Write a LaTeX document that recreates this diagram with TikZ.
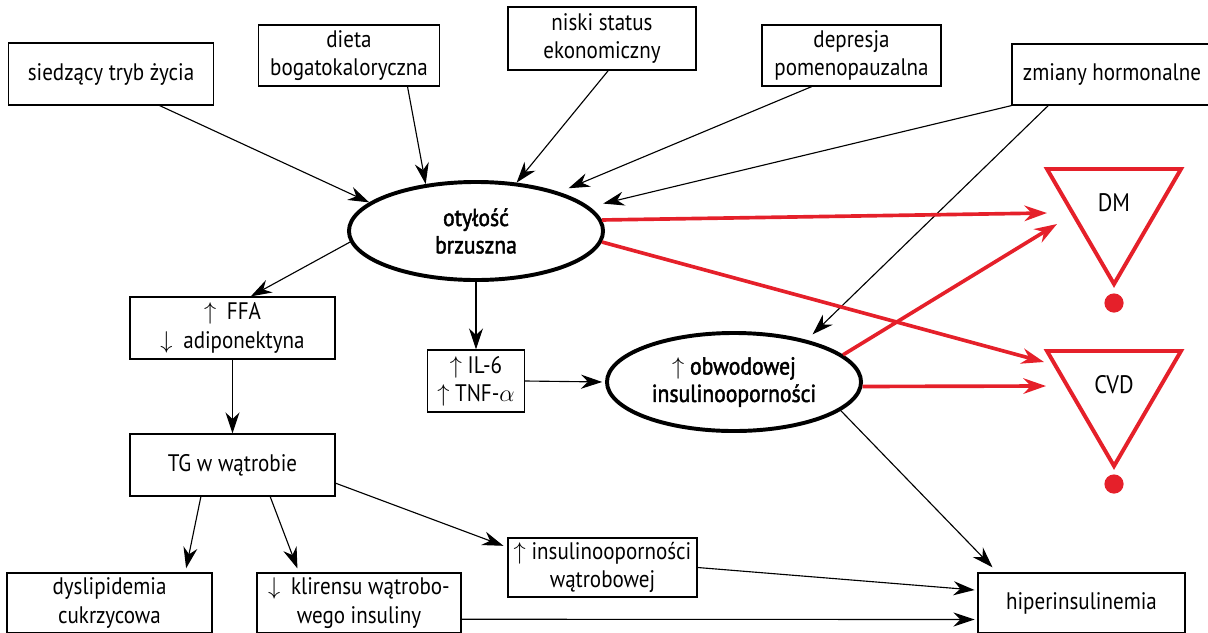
\documentclass[tikz,border=0pt]{standalone}
\usepackage{fontspec}
\setmainfont{PT Sans}[FakeStretch=0.88]
\newfontfamily\ellfont{PT Sans}[FakeStretch=0.88,FakeBold=1.8]
\usetikzlibrary{arrows.meta,shapes.geometric}
\definecolor{alarmred}{HTML}{E5202A}
\newcommand{\up}{$\uparrow$\hspace{0.45em}}
\newcommand{\down}{$\downarrow$\hspace{0.45em}}

\begin{document}
\begin{tikzpicture}[
        x=0.025cm, y=-0.025cm,
        font=\fontsize{17}{20}\selectfont,
        box/.style={draw, line width=0.85pt, align=center, inner sep=0pt, minimum height=1.55cm},
        oval/.style={ellipse, draw, line width=2.8pt, align=center, inner sep=0pt,
            minimum width=6.35cm, minimum height=2.45cm, font=\fontsize{17.5}{19.5}\selectfont\ellfont},
        arrow/.style={-{Stealth[length=15pt, width=10pt]}, line width=0.8pt},
        redarrow/.style={-{Stealth[length=16pt, width=11pt]}, line width=2.6pt, alarmred},
        warn/.style={draw=alarmred, line width=2.8pt, line join=miter}
    ]
        \useasboundingbox (0,0) rectangle (1208,632);

        % Factors
        \node[box, minimum width=5.125cm] (siedz) at (111,74) {siedzący tryb życia};
        \node[box, minimum width=4.525cm, minimum height=1.525cm] (dieta) at (349,55.5) {dieta\\bogatokaloryczna};
        \node[box, minimum width=4.7cm, minimum height=1.575cm] (niski) at (602,38.5) {niski status\\ekonomiczny};
        \node[box, minimum width=4.475cm, minimum height=1.525cm] (depr) at (851.5,55.5) {depresja\\pomenopauzalna};
        \node[box, minimum width=5cm, minimum height=1.525cm] (zmiany) at (1112,74.5) {zmiany hormonalne};

        % Central states
        \node[oval] (oty) at (476,231) {otyłość\\brzuszna};
        \node[oval] (obw) at (734,382) {$\uparrow$ obwodowej\\insulinooporności};

        % Mediators
        \node[box, minimum width=5.125cm] (ffa) at (232.5,328) {\up FFA\\\down adiponektyna};
        \node[box, minimum width=2.425cm] (il6) at (476,381) {$\uparrow$ IL-6\\$\uparrow$ TNF-$\alpha$};
        \node[box, minimum width=5.125cm] (tg) at (232.5,465) {TG w wątrobie};

        % Outcomes
        \node[box, minimum width=5.125cm, minimum height=1.5cm] (dyslip) at (109.5,603) {dyslipidemia\\cukrzycowa};
        \node[box, minimum width=5.1cm, minimum height=1.5cm] (klir) at (359,603) {\down klirensu wątrobo-\\wego insuliny};
        \node[box, minimum width=4.725cm, minimum height=1.475cm] (insul) at (602.5,567.5) {$\uparrow$ insulinooporności\\wątrobowej};
        \node[box, minimum width=5.175cm, minimum height=1.5cm] (hiper) at (1081.5,603) {hiperinsulinemia};

        % Risk signs
        \draw[warn] (1047,169) -- (1181,169) -- (1114,284) -- cycle;
        \draw[warn] (1047,351) -- (1181,351) -- (1114,466) -- cycle;
        \node[font=\fontsize{18}{20}\selectfont] (dm) at (1114,203) {DM};
        \node[font=\fontsize{18}{20}\selectfont] (cvd) at (1114,385) {CVD};
        \fill[alarmred] (1114,303) circle (0.24cm);
        \fill[alarmred] (1114,484) circle (0.24cm);
        \coordinate (dmin1) at (1047,213);
        \coordinate (dmin2) at (1057,224);
        \coordinate (cvdin1) at (1044,362);
        \coordinate (cvdin2) at (1046,386);

        % Transitions
        \draw[arrow] (siedz.-33) -- (oty.165);
        \draw[arrow] (dieta.-28) -- (oty.137);
        \draw[arrow] (niski.-79) -- (oty.50);
        \draw[arrow, shorten >=0.25cm] (depr.-142) -- (oty.25);
        \draw[arrow, shorten >=0.35cm] (zmiany.south west) -- (oty.12.5);
        \draw[arrow, shorten >=0.2cm] (zmiany.-154) -- (obw.30);
        \draw[arrow] (oty.185) -- (ffa.60);
        \draw[arrow] (oty.south) -- (il6.north);
        \draw[arrow] (ffa.south) -- (tg.north);
        \draw[arrow, shorten >=2pt] (il6.east) -- (obw.west);
        \draw[arrow, shorten >=3pt] (tg.-135) -- (dyslip.22);
        \draw[arrow, shorten >=3pt] (tg.-40) -- (klir.153);
        \draw[arrow, shorten >=3pt] (tg.-10) -- (insul.168);
        \draw[arrow, shorten >=2pt] (insul.east) -- (hiper.173);
        \draw[arrow, shorten >=2pt] (klir.-9.5) -- (hiper.189.3);
        \draw[arrow, shorten >=5pt] (obw.-15) -- (hiper.160);

        % Red transitions
        \draw[redarrow] (oty.5) -- (dmin1);
        \draw[redarrow] (oty.-5) -- (cvdin1);
        \draw[redarrow] (obw.14) -- (dmin2);
        \draw[redarrow] (obw.-2) -- (cvdin2);
    \end{tikzpicture}
\end{document}
